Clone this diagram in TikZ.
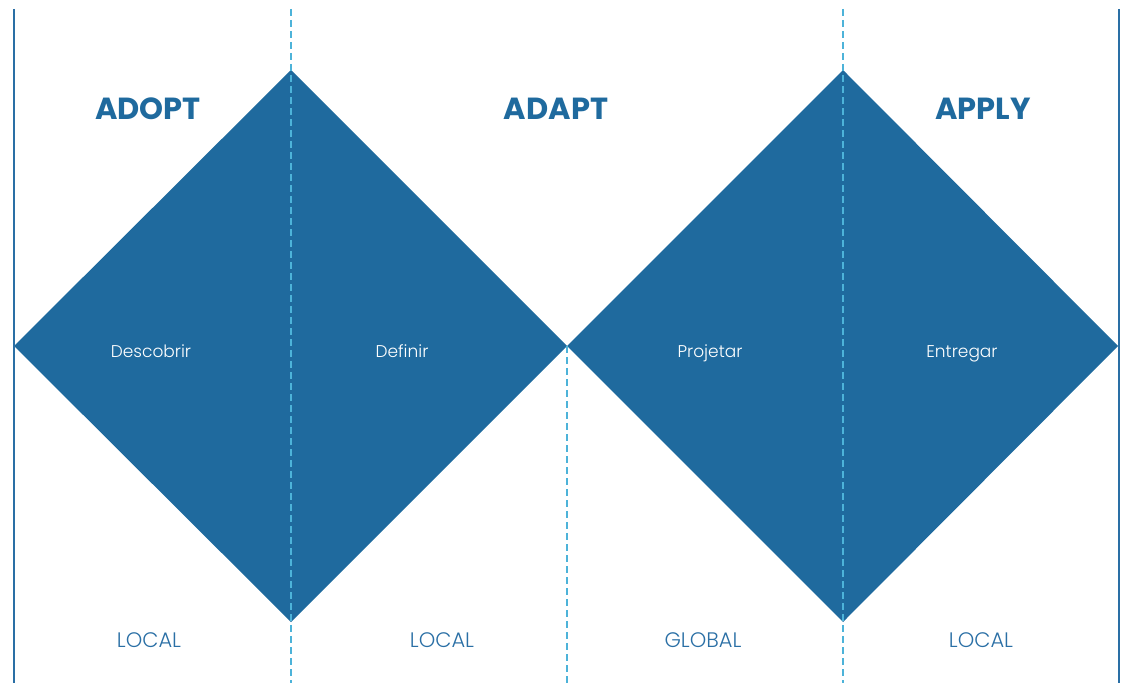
\documentclass[tikz,border=0pt]{standalone}
\usepackage{fontspec}
\setmainfont{Poppins}
\newfontfamily\lightfont{Poppins Light}
\definecolor{dblue}{HTML}{1F6A9E}
\definecolor{lblue}{HTML}{4DB3D9}
\definecolor{tblue}{HTML}{2A6FA5}
\begin{document}
\begin{tikzpicture}[x=1pt,y=-1pt,
  heading/.style={text=dblue,font=\fontsize{30.5}{32}\selectfont\bfseries,anchor=base},
  phase/.style={text=white,font=\lightfont\fontsize{17}{19}\selectfont,anchor=base},
  scopelbl/.style={text=tblue,font=\lightfont\fontsize{21}{23}\selectfont,anchor=base},
  border/.style={draw=tblue,line width=1.6pt},
  divider/.style={draw=lblue,line width=2pt,dash pattern=on 7pt off 4pt}]
\useasboundingbox (0,0) rectangle (1132,692);
% diamonds
\coordinate (d1l) at (14,346);
\coordinate (d1t) at (291,70);
\coordinate (mid) at (567,346);
\coordinate (d1b) at (291,622);
\coordinate (d2t) at (843,70);
\coordinate (d2r) at (1118,346);
\coordinate (d2b) at (843,622);
\fill[dblue] (d1l) -- (d1t) -- (mid) -- (d1b) -- cycle;
\fill[dblue] (mid) -- (d2t) -- (d2r) -- (d2b) -- cycle;
% borders
\coordinate (lt) at (14,9); \coordinate (lb) at (14,683);
\coordinate (rt) at (1119,9); \coordinate (rb) at (1119,683);
\draw[border] (lt) -- (lb);
\draw[border] (rt) -- (rb);
% dividers
\coordinate (v1t) at (291,9); \coordinate (v1b) at (291,683);
\coordinate (v2b) at (567,683);
\coordinate (v3t) at (843,9); \coordinate (v3b) at (843,683);
\draw[divider] (v1t) -- (v1b);
\draw[divider] (mid) -- (v2b);
\draw[divider] (v3t) -- (v3b);
% headings
\node[heading] (adopt) at (148,120) {ADOPT};
\node[heading] (adapt) at (556,120) {ADAPT};
\node[heading] (apply) at (983,120) {APPLY};
% phases
\node[phase] (desc) at (151,357) {Descobrir};
\node[phase] (def) at (402,357) {Definir};
\node[phase] (proj) at (710,357) {Projetar};
\node[phase] (ent) at (962,357) {Entregar};
% scopes
\node[scopelbl] (s1) at (149,647) {LOCAL};
\node[scopelbl] (s2) at (442,647) {LOCAL};
\node[scopelbl] (s3) at (703,647) {GLOBAL};
\node[scopelbl] (s4) at (981,647) {LOCAL};
\end{tikzpicture}
\end{document}
